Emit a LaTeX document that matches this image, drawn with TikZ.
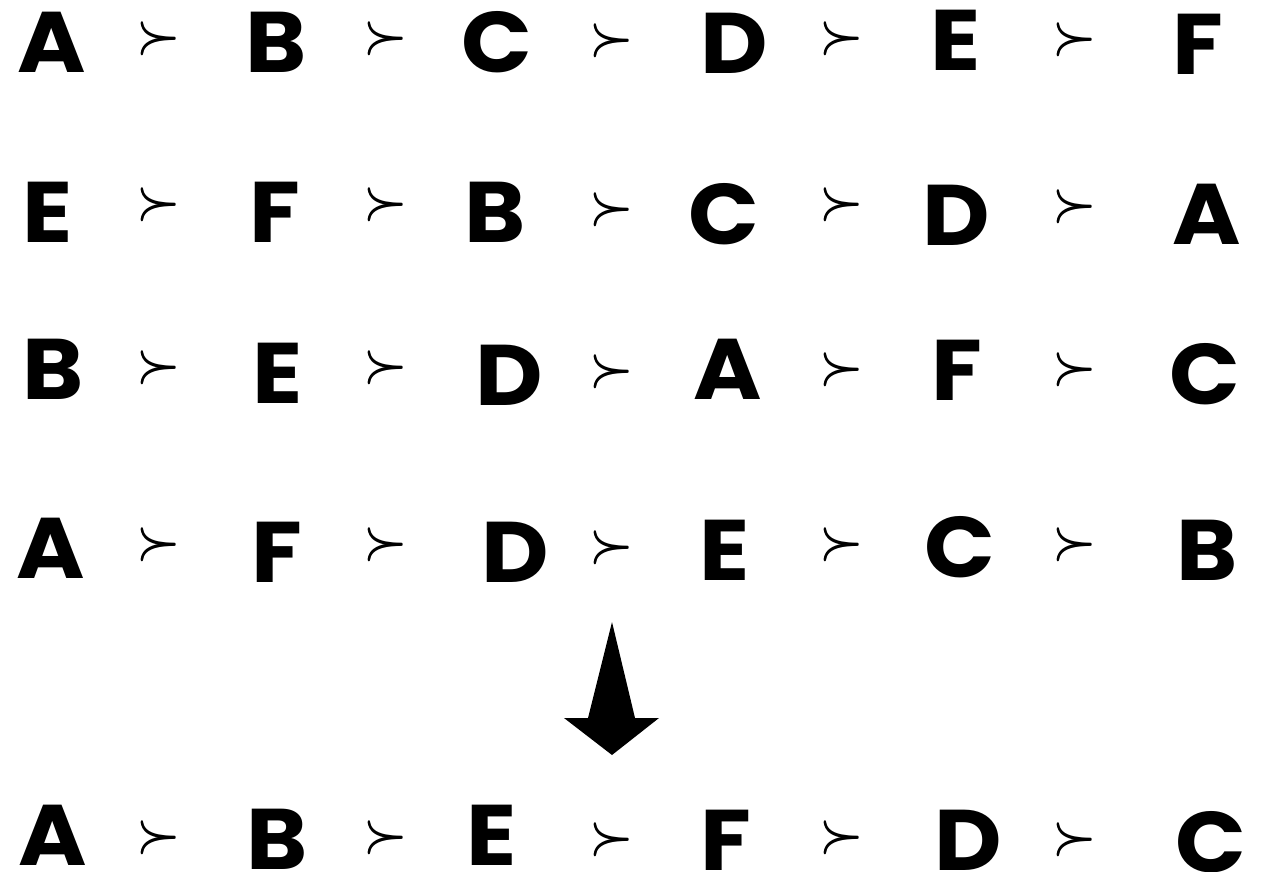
\documentclass[tikz,border=0pt]{standalone}
\usepackage{fontspec}
\setmainfont{Poppins}[BoldFont={* Bold},FakeStretch=1.08]
\newcommand{\succglyph}{\scalebox{5.7}{$\succ$}}
\newcommand{\bigsucc}{\makebox[0pt][l]{\raisebox{0.8pt}{\succglyph}}\succglyph}
\begin{document}
\begin{tikzpicture}[x=1pt,y=-1pt,
  letter/.style={inner sep=0pt,font=\fontsize{86}{86}\selectfont\bfseries},
  rel/.style={inner sep=0pt}]
\useasboundingbox (0,0) rectangle (1261,872);
% row 1
\node[letter] (a1) at (52,42) {A};
\node[rel] (s11) at (159,39) {\bigsucc};
\node[letter] (b1) at (276,42) {B};
\node[rel] (s12) at (386,39) {\bigsucc};
\node[letter] (c1) at (497,42) {C};
\node[rel] (s13) at (612,41) {\bigsucc};
\node[letter] (d1) at (734,43) {D};
\node[rel] (s14) at (842,39) {\bigsucc};
\node[letter] (e1) at (956,40) {E};
\node[rel] (s15) at (1075,40) {\bigsucc};
\node[letter] (f1) at (1198,44) {F};
% row 2
\node[letter] (e2) at (48,212) {E};
\node[rel] (s21) at (159,205) {\bigsucc};
\node[letter] (f2) at (275,212) {F};
\node[rel] (s22) at (386,205) {\bigsucc};
\node[letter] (b2) at (495,212) {B};
\node[rel] (s23) at (612,210) {\bigsucc};
\node[letter] (c2) at (724,214) {C};
\node[rel] (s24) at (842,205) {\bigsucc};
\node[letter] (d2) at (956,215) {D};
\node[rel] (s25) at (1075,207) {\bigsucc};
\node[letter] (a2) at (1207,214) {A};
% row 3
\node[letter] (b3) at (53,369) {B};
\node[rel] (s31) at (159,368) {\bigsucc};
\node[letter] (e3) at (278,373) {E};
\node[rel] (s32) at (386,368) {\bigsucc};
\node[letter] (d3) at (509,375) {D};
\node[rel] (s33) at (612,372) {\bigsucc};
\node[letter] (a3) at (728,369) {A};
\node[rel] (s34) at (842,370) {\bigsucc};
\node[letter] (f3) at (957,370) {F};
\node[rel] (s35) at (1075,370) {\bigsucc};
\node[letter] (c3) at (1205,374) {C};
% row 4
\node[letter] (a4) at (51,548) {A};
\node[rel] (s41) at (159,545) {\bigsucc};
\node[letter] (f4) at (277,552) {F};
\node[rel] (s42) at (386,545) {\bigsucc};
\node[letter] (d4) at (515,552) {D};
\node[rel] (s43) at (612,548) {\bigsucc};
\node[letter] (e4) at (725,550) {E};
\node[rel] (s44) at (842,545) {\bigsucc};
\node[letter] (c4) at (960,547) {C};
\node[rel] (s45) at (1075,545) {\bigsucc};
\node[letter] (b4) at (1207,550) {B};
% arrow
\coordinate (top) at (612,622);
\coordinate (tip) at (612,755);
\fill (top) -- (635,718) -- (659,718) -- (tip) -- (564,718) -- (588,718) -- cycle;
% result row
\node[letter] (a5) at (53,835) {A};
\node[rel] (s51) at (159,838) {\bigsucc};
\node[letter] (b5) at (277,839) {B};
\node[rel] (s52) at (386,838) {\bigsucc};
\node[letter] (e5) at (492,835) {E};
\node[rel] (s53) at (612,840) {\bigsucc};
\node[letter] (f5) at (726,840) {F};
\node[rel] (s54) at (842,838) {\bigsucc};
\node[letter] (d5) at (968,840) {D};
\node[rel] (s55) at (1075,840) {\bigsucc};
\node[letter] (c5) at (1211,842) {C};
\end{tikzpicture}
\end{document}
